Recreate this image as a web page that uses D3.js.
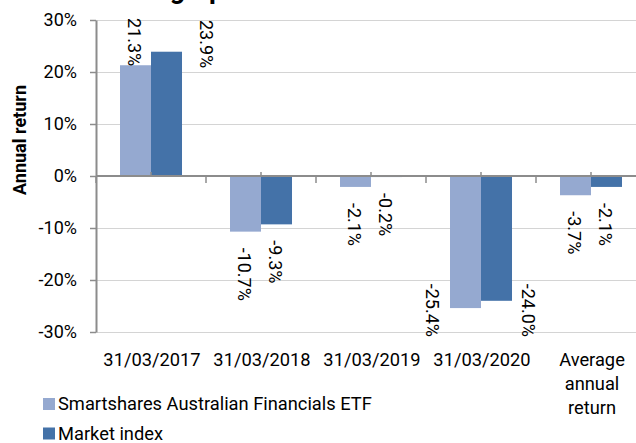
<!DOCTYPE html>
<html>
<head>
<meta charset="utf-8">
<script src="https://cdn.jsdelivr.net/npm/d3@7"></script>
<style>
  html, body { margin: 0; padding: 0; background: #fff; }
  svg { display: block; font-family: Roboto, "Noto Sans", sans-serif; }
</style>
</head>
<body>
<svg id="chart" width="636" height="443"></svg>
<script>
// ---- data ----
const categories = ["31/03/2017", "31/03/2018", "31/03/2019", "31/03/2020", "Average annual return"];
const seriesNames = ["Smartshares Australian Financials ETF", "Market index"];
const fundReturns = [21.3, -10.7, -2.1, -25.4, -3.7];
const indexReturns = [23.9, -9.3, -0.2, -24.0, -2.1];
const yTicks = [-30, -20, -10, 0, 10, 20, 30];
const chartTitle = "Annual return graph";
const yAxisTitle = "Annual return";

const colors = ["#95A9D0", "#4472A8"];
const seriesValues = [fundReturns, indexReturns];

const svg = d3.select("#chart");
const plot = { left: 96, right: 646, top: 20, bottom: 332 };

const x = d3.scaleBand().domain(categories).range([plot.left, plot.right]).paddingInner(0).paddingOuter(0);
const xs = d3.scaleBand().domain(seriesNames).range([0, x.bandwidth()]).paddingInner(0).paddingOuter(0.774);
const y = d3.scaleLinear().domain([-30, 30]).range([plot.bottom, plot.top]);

// title (partly above the visible area, as in the reference crop)
const titleText = svg.append("text")
  .attr("font-weight", "bold").attr("font-size", 27).attr("fill", "#000")
  .attr("y", -2);
const prefix = svg.append("text").attr("font-weight", "bold").attr("font-size", 27).text("Annual return ");
const pw = prefix.node().getComputedTextLength();
prefix.remove();
titleText.attr("x", 163 - pw).text(chartTitle);

// gridlines
svg.append("g").selectAll("line").data(yTicks.filter(d => d !== 0)).join("line")
  .attr("x1", plot.left).attr("x2", 636)
  .attr("y1", d => Math.round(y(d)) + 0.5).attr("y2", d => Math.round(y(d)) + 0.5)
  .attr("stroke", "#D4D4D4").attr("stroke-width", 1);

// bars
const groups = svg.append("g").selectAll("g").data(seriesNames).join("g")
  .attr("fill", (d, i) => colors[i]);
groups.selectAll("rect").data((s, si) => categories.map((c, ci) => ({ c, s, si, v: seriesValues[si][ci] })))
  .join("rect")
  .attr("x", d => x(d.c) + xs(d.s))
  .attr("width", xs.bandwidth())
  .attr("y", d => y(Math.max(0, d.v)))
  .attr("height", d => Math.abs(y(d.v) - y(0)));

// y axis
const yAxis = svg.append("g").attr("transform", `translate(${plot.left},0)`)
  .call(d3.axisLeft(y).tickValues(yTicks).tickFormat(d => d + "%").tickSize(6).tickPadding(13).tickSizeOuter(0));
yAxis.select(".domain").attr("stroke", "#8C8C8C").attr("stroke-width", 2);
yAxis.selectAll(".tick line").attr("stroke", "#8C8C8C").attr("stroke-width", 1.5);
yAxis.selectAll(".tick text").attr("font-size", 18).attr("fill", "#000")
  .attr("font-family", "Roboto, 'Noto Sans', sans-serif");

// x axis (zero line) with small upward ticks at category centres
const xAxis = svg.append("g").attr("transform", `translate(0,${y(0)})`)
  .call(d3.axisBottom(x).tickSize(-4).tickSizeOuter(0).tickFormat(""));
xAxis.select(".domain").attr("d", `M${plot.left},0H636`).attr("stroke", "#8C8C8C").attr("stroke-width", 2);
xAxis.selectAll(".tick line").attr("stroke", "#8C8C8C").attr("stroke-width", 1.5);
// boundary ticks (downwards)
const bounds = categories.map(c => x(c)).concat([plot.right]);
xAxis.append("g").selectAll("line").data(bounds).join("line")
  .attr("x1", d => d).attr("x2", d => d).attr("y1", 0).attr("y2", 7)
  .attr("stroke", "#8C8C8C").attr("stroke-width", 1.5);

// category labels
const catLabels = svg.append("g").attr("font-size", 18.3).attr("fill", "#000").attr("text-anchor", "middle");
categories.forEach(c => {
  const lines = c === "Average annual return" ? ["Average", "annual", "return"] : [c];
  const cx = x(c) + x.bandwidth() / 2 + 1;
  const t = catLabels.append("text").attr("x", cx).attr("y", 366);
  lines.forEach((l, i) => t.append("tspan").attr("x", cx).attr("y", 366 + i * 24).text(l));
});

// y axis title
svg.append("text")
  .attr("transform", "translate(26,140) rotate(-90)")
  .attr("text-anchor", "middle").attr("font-weight", "bold").attr("font-size", 18).attr("fill", "#000")
  .text(yAxisTitle);

// data labels, rotated (reading top to bottom)
const labelG = svg.append("g").attr("font-size", 18).attr("fill", "#000");
seriesNames.forEach((s, si) => {
  categories.forEach((c, ci) => {
    const v = seriesValues[si][ci];
    const bx = x(c) + xs(s);
    let cx = bx + xs.bandwidth() / 2 - 1;
    const txt = v.toFixed(1) + "%";
    const t = labelG.append("text").attr("dy", "0.35em").text(txt);
    const len = t.node().getComputedTextLength();
    let start;
    if (v >= 0) {
      const end = y(v) + 1;
      start = end - len;
      if (start < plot.top - 4) {
        start = plot.top;
        cx = si === 0 ? bx - 18 : bx + xs.bandwidth() + 24;
      }
    } else {
      start = y(v) + 16;
      if (start + len > plot.bottom + 6) {
        start = plot.bottom + 5 - len;
        cx = si === 0 ? bx - 18 : bx + xs.bandwidth() + 16;
      }
    }
    t.attr("transform", `translate(${cx},${start}) rotate(90)`);
  });
});

// legend
const legend = svg.append("g");
seriesNames.forEach((s, i) => {
  const ly = 398 + i * 29.5;
  legend.append("rect").attr("x", 43).attr("y", ly).attr("width", 12).attr("height", 12).attr("fill", colors[i]);
  legend.append("text").attr("x", 58).attr("y", ly + 12).attr("font-size", 18.3).attr("fill", "#000").text(s);
});
</script>
</body>
</html>
